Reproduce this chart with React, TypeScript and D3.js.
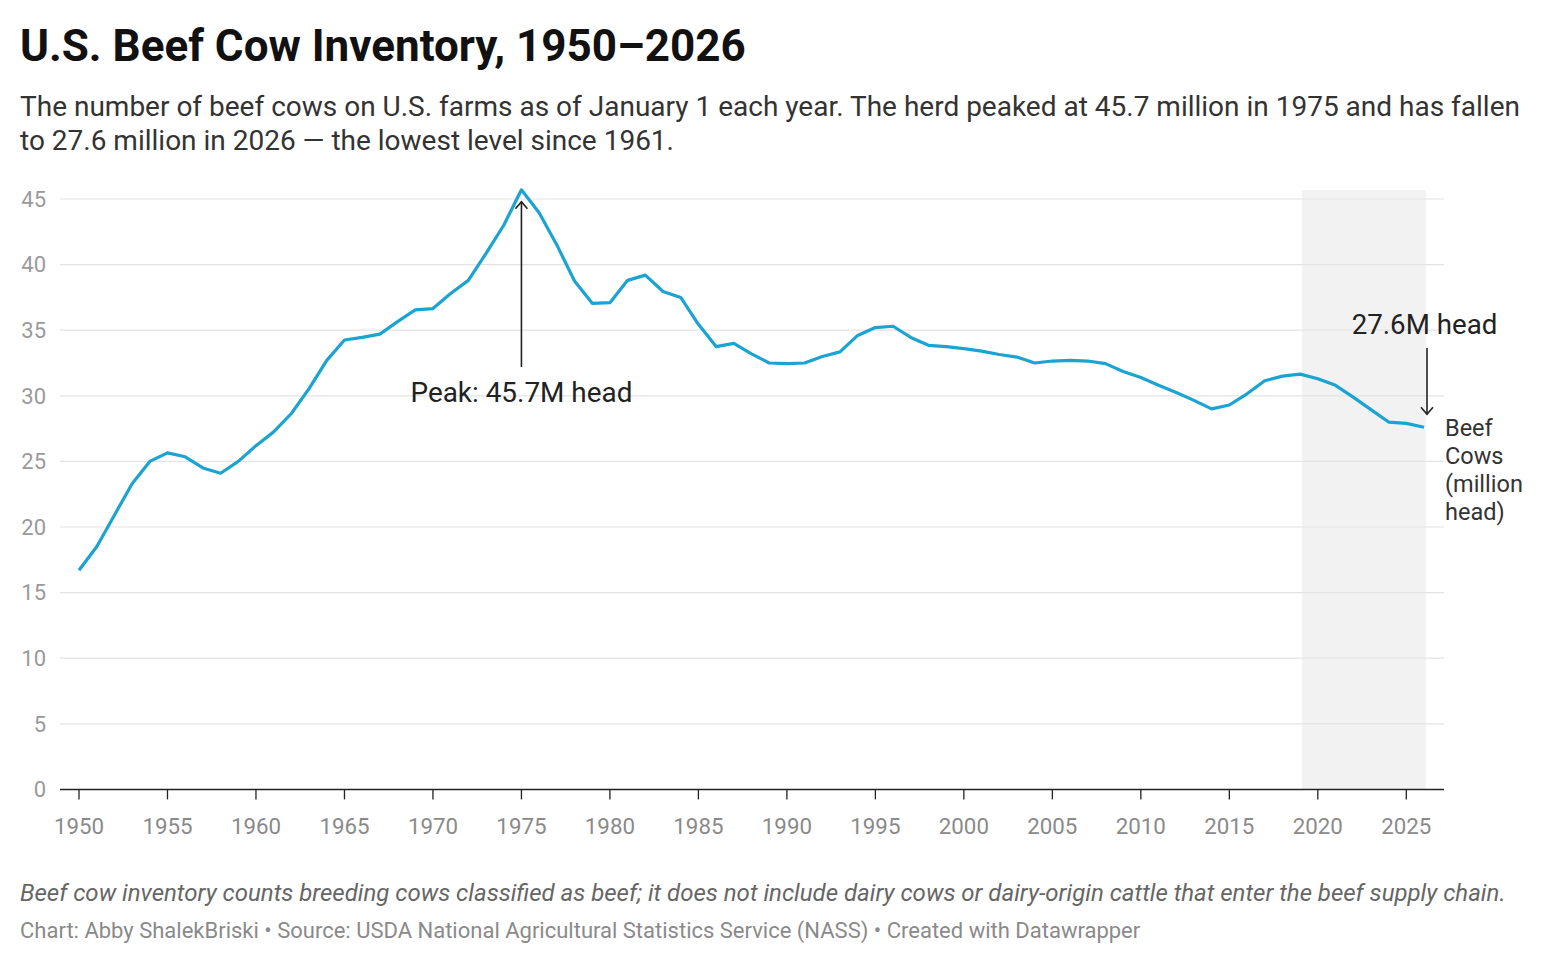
import * as d3 from 'd3';
import { useEffect, useRef } from 'react';

const years: number[] = d3.range(1950, 2027);
const beefCows: number[] = [
  16.7, 18.5, 20.9, 23.3, 25.0, 25.65, 25.35, 24.5, 24.1, 25.0,
  26.2, 27.25, 28.65, 30.55, 32.7, 34.25, 34.45, 34.7, 35.65, 36.55,
  36.65, 37.8, 38.8, 40.85, 43.0, 45.7, 43.95, 41.5, 38.75, 37.05,
  37.1, 38.8, 39.2, 37.95, 37.5, 35.45, 33.75, 34.0, 33.2, 32.5,
  32.45, 32.5, 33.0, 33.35, 34.6, 35.2, 35.3, 34.45, 33.85, 33.75,
  33.6, 33.4, 33.15, 32.95, 32.5, 32.65, 32.7, 32.65, 32.45, 31.85,
  31.4, 30.8, 30.25, 29.65, 29.0, 29.3, 30.15, 31.15, 31.5, 31.65,
  31.3, 30.8, 29.9, 28.95, 28.0, 27.9, 27.6,
];
const yTicks: number[] = [0, 5, 10, 15, 20, 25, 30, 35, 40, 45];
const xTicks: number[] = d3.range(1950, 2026, 5);
const shadedYears: [number, number] = [2019.1, 2026.1];
const lineLabel: string[] = ['Beef', 'Cows', '(million', 'head)'];

const WIDTH = 1544;
const HEIGHT = 964;
const FONT = 'Roboto, "Noto Sans", sans-serif';

export default function App() {
  const svgRef = useRef<SVGSVGElement | null>(null);

  useEffect(() => {
    if (!svgRef.current) return;
    const svg = d3.select(svgRef.current);
    svg.selectAll('*').remove();

    const x = d3.scaleLinear().domain([1950, 2025]).range([79, 1406.3]);
    const y = d3.scaleLinear().domain([0, 45]).range([789.4, 199]);
    const data = years.map((yr, i) => ({ year: yr, value: beefCows[i] }));

    const defs = svg.append('defs');
    defs
      .append('marker')
      .attr('id', 'arrow')
      .attr('viewBox', '-10 -10 20 20')
      .attr('refX', 0)
      .attr('refY', 0)
      .attr('markerWidth', 20)
      .attr('markerHeight', 20)
      .attr('markerUnits', 'userSpaceOnUse')
      .attr('orient', 'auto')
      .append('path')
      .attr('d', 'M-7,-6 L0,0 L-7,6')
      .attr('fill', 'none')
      .attr('stroke', '#222')
      .attr('stroke-width', 1.6);

    // title + subtitle
    svg
      .append('text')
      .attr('x', 20)
      .attr('y', 61)
      .attr('font-family', FONT)
      .attr('font-weight', 700)
      .attr('font-size', 44)
      .attr('fill', '#111')
      .text('U.S. Beef Cow Inventory, 1950–2026');

    const sub = svg
      .append('text')
      .attr('font-family', FONT)
      .attr('font-size', 28)
      .attr('fill', '#333');
    sub
      .append('tspan')
      .attr('x', 20)
      .attr('y', 116)
      .text(
        'The number of beef cows on U.S. farms as of January 1 each year. The herd peaked at 45.7 million in 1975 and has fallen',
      );
    sub
      .append('tspan')
      .attr('x', 20)
      .attr('y', 150)
      .text('to 27.6 million in 2026 — the lowest level since 1961.');

    // shaded band
    svg
      .append('rect')
      .attr('x', x(shadedYears[0]))
      .attr('y', 190)
      .attr('width', x(shadedYears[1]) - x(shadedYears[0]))
      .attr('height', y(0) - 190)
      .attr('fill', '#f2f2f2');

    // grid
    svg
      .append('g')
      .selectAll('line')
      .data(yTicks.filter((t) => t > 0))
      .join('line')
      .attr('x1', 60)
      .attr('x2', 1444)
      .attr('y1', (d) => y(d))
      .attr('y2', (d) => y(d))
      .attr('stroke', '#e3e3e3')
      .attr('stroke-width', 1.2);

    svg
      .append('g')
      .selectAll('text')
      .data(yTicks)
      .join('text')
      .attr('x', 46)
      .attr('y', (d) => y(d))
      .attr('dy', '0.35em')
      .attr('text-anchor', 'end')
      .attr('font-family', FONT)
      .attr('font-size', 22)
      .attr('fill', '#9a9a9a')
      .text((d) => d);

    // x axis
    svg
      .append('line')
      .attr('x1', 60)
      .attr('x2', 1444)
      .attr('y1', y(0))
      .attr('y2', y(0))
      .attr('stroke', '#222')
      .attr('stroke-width', 1.5);

    const xg = svg.append('g');
    xg.selectAll('line')
      .data(xTicks)
      .join('line')
      .attr('x1', (d) => x(d))
      .attr('x2', (d) => x(d))
      .attr('y1', y(0))
      .attr('y2', y(0) + 10)
      .attr('stroke', '#222')
      .attr('stroke-width', 1.3);
    xg.selectAll('text')
      .data(xTicks)
      .join('text')
      .attr('x', (d) => x(d))
      .attr('y', 834)
      .attr('text-anchor', 'middle')
      .attr('font-family', FONT)
      .attr('font-size', 22.3)
      .attr('fill', '#8a8a8a')
      .text((d) => d);

    // line
    const line = d3
      .line<{ year: number; value: number }>()
      .x((d) => x(d.year))
      .y((d) => y(d.value));
    svg
      .append('path')
      .datum(data)
      .attr('d', line)
      .attr('fill', 'none')
      .attr('stroke', '#1ba3d2')
      .attr('stroke-width', 3.2)
      .attr('stroke-linejoin', 'round');

    // line label
    const lbl = svg
      .append('text')
      .attr('font-family', FONT)
      .attr('font-size', 23.5)
      .attr('fill', '#333');
    lineLabel.forEach((t, i) => {
      lbl
        .append('tspan')
        .attr('x', 1445)
        .attr('y', 436 + i * 28)
        .text(t);
    });

    // peak annotation
    const peak = data[years.indexOf(1975)];
    svg
      .append('line')
      .attr('x1', x(peak.year))
      .attr('x2', x(peak.year))
      .attr('y1', 367)
      .attr('y2', y(peak.value) + 12)
      .attr('stroke', '#222')
      .attr('stroke-width', 1.6)
      .attr('marker-end', 'url(#arrow)');
    svg
      .append('text')
      .attr('x', x(peak.year))
      .attr('y', 402)
      .attr('text-anchor', 'middle')
      .attr('font-family', FONT)
      .attr('font-size', 27.9)
      .attr('fill', '#222')
      .text('Peak: 45.7M head');

    // latest annotation
    const last = data[data.length - 1];
    svg
      .append('line')
      .attr('x1', x(last.year) + 3)
      .attr('x2', x(last.year) + 3)
      .attr('y1', 348)
      .attr('y2', y(last.value) - 13)
      .attr('stroke', '#222')
      .attr('stroke-width', 1.6)
      .attr('marker-end', 'url(#arrow)');
    svg
      .append('text')
      .attr('x', x(last.year) + 0.5)
      .attr('y', 334)
      .attr('text-anchor', 'middle')
      .attr('font-family', FONT)
      .attr('font-size', 27.7)
      .attr('fill', '#222')
      .text('27.6M head');

    // notes
    svg
      .append('text')
      .attr('x', 20)
      .attr('y', 901)
      .attr('font-family', FONT)
      .attr('font-style', 'italic')
      .attr('font-size', 24)
      .attr('fill', '#666')
      .text(
        'Beef cow inventory counts breeding cows classified as beef; it does not include dairy cows or dairy-origin cattle that enter the beef supply chain.',
      );
    svg
      .append('text')
      .attr('x', 20)
      .attr('y', 938)
      .attr('font-family', FONT)
      .attr('font-size', 22)
      .attr('fill', '#8a8a8a')
      .text(
        'Chart: Abby ShalekBriski • Source: USDA National Agricultural Statistics Service (NASS) • Created with Datawrapper',
      );
  }, []);

  return (
    <div style={{ position: 'absolute', left: 0, top: 0, width: WIDTH, height: HEIGHT, background: '#fff' }}>
      <svg ref={svgRef} width={WIDTH} height={HEIGHT} />
    </div>
  );
}
